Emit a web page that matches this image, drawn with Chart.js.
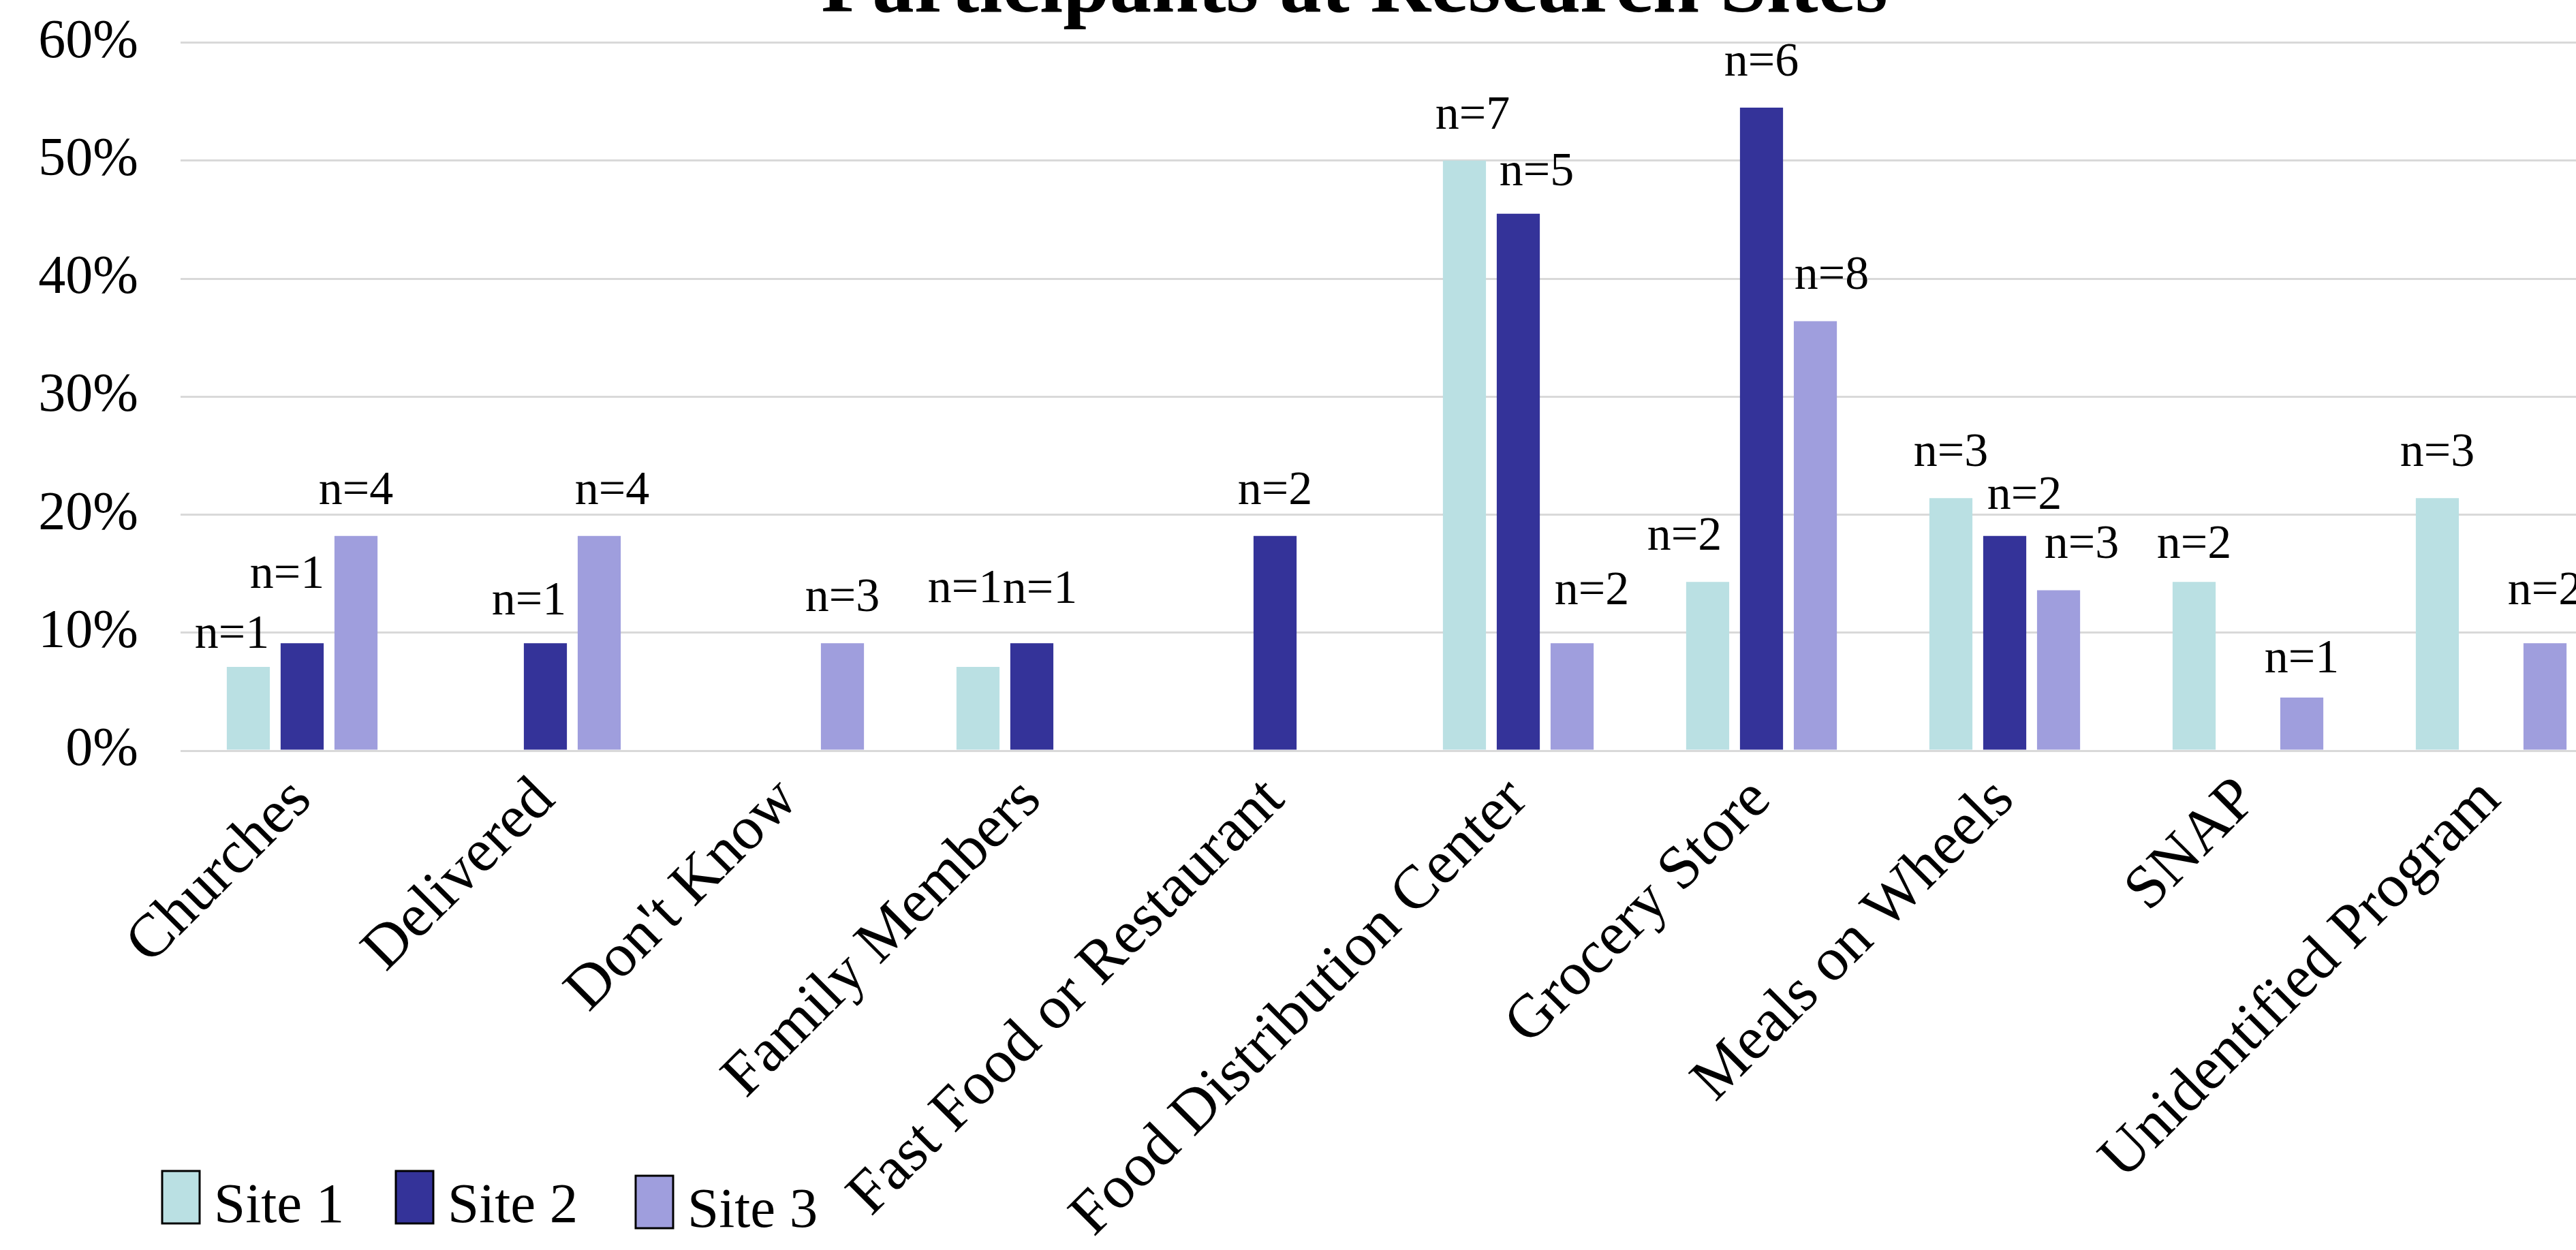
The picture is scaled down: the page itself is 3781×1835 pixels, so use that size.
<!DOCTYPE html>
<html>
<head>
<meta charset="utf-8">
<script src="https://cdn.jsdelivr.net/npm/chart.js@4.4.1/dist/chart.umd.min.js"></script>
<style>
	html, body {
		margin: 0;
		padding: 0;
		overflow: hidden;
		background: #fff;
	}
	#wrap {
		position: absolute;
		left: 0;
		top: -89px;
		width: 3976px;
		height: 1924px;
	}
</style>
</head>
<body>
<div id="wrap"><canvas id="myChart"></canvas></div>

<script>
	const categories = [
		"Churches",
		"Delivered",
		"Don't Know",
		"Family Members",
		"Fast Food or Restaurant",
		"Food Distribution Center",
		"Grocery Store",
		"Meals on Wheels",
		"SNAP",
		"Unidentified Program",
	];
	const seriesNames = ["Site 1", "Site 2", "Site 3"];

	// percent of participants at each site
	const site1Pct = [7.1, null, null, 7.1, null, 50.0, 14.3, 21.4, 14.3, 21.4];
	const site2Pct = [9.1, 9.1, null, 9.1, 18.2, 45.5, 54.5, 18.2, null, null];
	const site3Pct = [18.2, 18.2, 9.1, null, null, 9.1, 36.4, 13.6, 4.5, 9.1];

	// counts shown above the bars
	const site1N = [1, null, null, 1, null, 7, 2, 3, 2, 3];
	const site2N = [1, 1, null, 1, 2, 5, 6, 2, null, null];
	const site3N = [4, 4, 3, null, null, 2, 8, 3, 1, 2];

	const yTicks = [0, 10, 20, 30, 40, 50, 60];

	const colors = ["#BAE0E3", "#343399", "#9F9EDD"];
	const fontFamily = "'Liberation Serif', 'Times New Roman', serif";

	// hand-moved labels in the original, "dataset-category": [dx, dy]
	const labelNudge = {
		"0-0": [-24, 19],
		"1-0": [-22, -34],
		"1-1": [-24, 5],
		"2-1": [19, 0],
		"0-3": [-19, -48],
		"1-3": [12, -12],
		"0-5": [12, 0],
		"1-5": [27, 5],
		"2-5": [29, -10],
		"0-6": [-34, 0],
		"2-6": [24, 0],
		"1-7": [29, 7],
		"2-7": [34, 0],
		"0-8": [0, 12],
		"2-8": [0, 10],
		"2-9": [0, -10],
	};

	const countLabels = {
		id: "countLabels",
		afterDatasetsDraw(chart) {
			const ctx = chart.ctx;
			ctx.save();
			ctx.font = "70px " + fontFamily;
			ctx.fillStyle = "#000";
			ctx.textAlign = "center";
			ctx.textBaseline = "alphabetic";
			chart.data.datasets.forEach((ds, i) => {
				const meta = chart.getDatasetMeta(i);
				meta.data.forEach((bar, j) => {
					const n = ds.counts[j];
					if (n == null) return;
					const nudge = labelNudge[i + "-" + j] || [0, 0];
					ctx.fillText("n=" + n, bar.x + nudge[0], bar.y - 47 + nudge[1]);
				});
			});
			ctx.restore();
		},
	};

	// legend sits at the bottom left, over the label area
	const bottomLegend = {
		id: "bottomLegend",
		afterDraw(chart) {
			const ctx = chart.ctx;
			const xs = [238, 581, 933];
			const drop = [0, 0, 7];
			const top = 1808;
			ctx.save();
			ctx.font = "83px " + fontFamily;
			ctx.textBaseline = "alphabetic";
			ctx.textAlign = "left";
			chart.data.datasets.forEach((ds, i) => {
				const y = top + drop[i];
				ctx.fillStyle = ds.backgroundColor;
				ctx.fillRect(xs[i], y, 55, 77);
				ctx.strokeStyle = "#000";
				ctx.lineWidth = 3;
				ctx.strokeRect(xs[i], y, 55, 77);
				ctx.fillStyle = "#000";
				ctx.fillText(ds.label, xs[i] + 76, y + 75);
			});
			ctx.restore();
		},
	};

	const ctx = document.getElementById("myChart").getContext("2d");
	const pcts = [site1Pct, site2Pct, site3Pct];
	const counts = [site1N, site2N, site3N];

	const myChart = new Chart(ctx, {
		type: "bar",
		data: {
			labels: categories,
			datasets: seriesNames.map((name, i) => ({
				label: name,
				data: pcts[i],
				counts: counts[i],
				backgroundColor: colors[i],
				borderWidth: 0,
				categoryPercentage: 0.664,
				barPercentage: 0.8,
			})),
		},
		options: {
			responsive: true,
			maintainAspectRatio: false,
			animation: false,
			layout: {
				padding: 0,
			},
			plugins: {
				legend: { display: false },
				tooltip: { enabled: false },
				title: {
					display: true,
					text: "Participants at Research Sites",
					color: "#000",
					font: { family: fontFamily, size: 123, weight: "bold" },
					padding: { top: 0, bottom: 4 },
				},
			},
			scales: {
				x: {
					grid: { display: false },
					border: { display: false },
					ticks: {
						color: "#000",
						font: { family: fontFamily, size: 90 },
						maxRotation: 45,
						minRotation: 45,
						autoSkip: false,
						padding: 12,
					},
					afterFit(scale) {
						scale.height = 733;
					},
				},
				y: {
					min: 0,
					max: 60,
					afterBuildTicks(scale) {
						scale.ticks = yTicks.map((v) => ({ value: v }));
					},
					grid: { color: "#D9D9D9", lineWidth: 3, drawTicks: false },
					border: { display: false },
					ticks: {
						color: "#000",
						font: { family: fontFamily, size: 80 },
						padding: 62,
						callback: (v) => v + "%",
					},
					afterFit(scale) {
						scale.width = 265;
					},
				},
				// empty strip on the right so the title centres over the whole chart
				yPad: {
					position: "right",
					grid: { display: false },
					border: { display: false },
					ticks: { display: false },
					afterFit(scale) {
						scale.width = 141;
					},
				},
			},
		},
		plugins: [countLabels, bottomLegend],
	});
</script>
</body>
</html>
